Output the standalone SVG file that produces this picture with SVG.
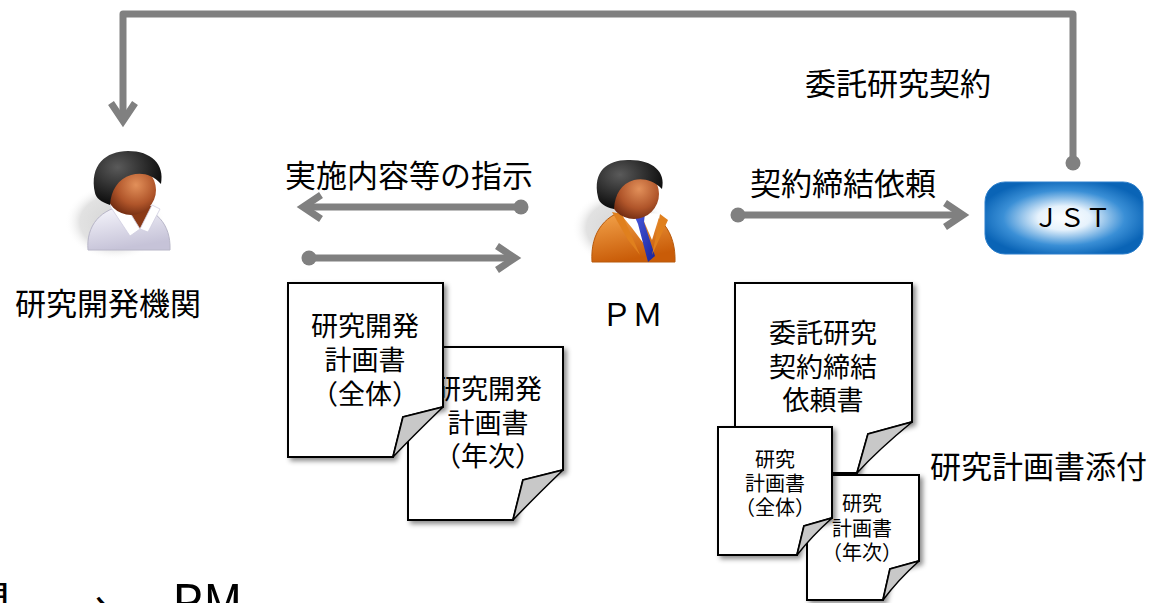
<svg xmlns="http://www.w3.org/2000/svg" width="1155" height="603" viewBox="0 0 1155 603">
  <style>
    .t { font-family: "Noto Sans CJK JP", "Noto Sans", sans-serif; fill: #000; }
    .lbl { font-size: 31px; }
    .doc-t { font-size: 27px; text-anchor: middle; }
    .doc-s { font-size: 20px; text-anchor: middle; }
    .conn { fill: none; stroke: #808080; stroke-width: 7; stroke-linejoin: round; }
    .page { fill: #fff; stroke: #000; stroke-width: 2; filter: url(#shadow); }
    .flap { fill: #c8c8c8; stroke: #000; stroke-width: 1.5; stroke-linejoin: round; }
  </style>
  <defs>
    <marker id="dot" markerUnits="userSpaceOnUse" viewBox="-8 -8 16 16" markerWidth="16" markerHeight="16" refX="0" refY="0" orient="auto">
      <circle r="7.5" fill="#808080"/>
    </marker>
    <marker id="chev" markerUnits="userSpaceOnUse" viewBox="-30 -20 40 40" markerWidth="40" markerHeight="40" refX="0" refY="0" orient="auto" overflow="visible">
      <path d="M-18,-12 L0,0 L-18,12" fill="none" stroke="#808080" stroke-width="7" stroke-linejoin="miter"/>
    </marker>
    <filter id="shadow" x="-10%" y="-10%" width="130%" height="130%">
      <feDropShadow dx="3" dy="3" stdDeviation="2.5" flood-color="#000" flood-opacity="0.45"/>
    </filter>
    <radialGradient id="jstFill" cx="0.5" cy="0.5" r="0.55">
      <stop offset="0" stop-color="#ffffff"/>
      <stop offset="0.3" stop-color="#e6f2fc"/>
      <stop offset="0.7" stop-color="#3a8fd6"/>
      <stop offset="1" stop-color="#0a64b6"/>
    </radialGradient>
    <radialGradient id="halo" cx="0.5" cy="0.5" r="0.5">
      <stop offset="0" stop-color="#d4d4d4"/>
      <stop offset="0.7" stop-color="#e2e2e2"/>
      <stop offset="1" stop-color="#ffffff" stop-opacity="0"/>
    </radialGradient>
    <radialGradient id="skin" cx="0.6" cy="0.4" r="0.65">
      <stop offset="0" stop-color="#e2905a"/>
      <stop offset="0.6" stop-color="#b0552a"/>
      <stop offset="1" stop-color="#6e2a10"/>
    </radialGradient>
    <radialGradient id="hair" cx="0.35" cy="0.3" r="0.7">
      <stop offset="0" stop-color="#5a5a5a"/>
      <stop offset="1" stop-color="#0c0c0c"/>
    </radialGradient>
    <linearGradient id="shirt" x1="0" y1="0" x2="0.3" y2="1">
      <stop offset="0" stop-color="#fafaff"/>
      <stop offset="1" stop-color="#c6c3d8"/>
    </linearGradient>
    <linearGradient id="suit" x1="0" y1="0" x2="0.3" y2="1">
      <stop offset="0" stop-color="#f8ab52"/>
      <stop offset="1" stop-color="#c95c08"/>
    </linearGradient>
    <linearGradient id="tie" x1="0" y1="0" x2="1" y2="1">
      <stop offset="0" stop-color="#4a5ae0"/>
      <stop offset="1" stop-color="#1a2499"/>
    </linearGradient>
  </defs>

  <!-- connectors -->
  <g id="connectors">
    <path class="conn" d="M1073,163 V14 H123 V121" marker-start="url(#dot)" marker-end="url(#chev)"/>
    <line class="conn" x1="521" y1="207" x2="303" y2="207" marker-start="url(#dot)" marker-end="url(#chev)"/>
    <line class="conn" x1="309" y1="258" x2="515" y2="258" marker-start="url(#dot)" marker-end="url(#chev)"/>
    <line class="conn" x1="738" y1="215" x2="963" y2="215" marker-start="url(#dot)" marker-end="url(#chev)"/>
    <text class="t lbl" x="805" y="95">委託研究契約</text>
    <text class="t lbl" x="285" y="187">実施内容等の指示</text>
    <text class="t lbl" x="750" y="195">契約締結依頼</text>
  </g>

  <!-- research institute person -->
  <g id="research-institute">
    <ellipse cx="115" cy="222" rx="50" ry="38" fill="url(#halo)"/>
    <path d="M88,250 C86,226 100,208 128,205 C156,207 171,224 170,250 Z" fill="url(#shirt)" stroke="#b8b6c8" stroke-width="1"/>
    <path d="M112,206 L140,229 L152,206 Z" fill="#8a3a17"/>
    <path d="M110,206 L124,203 L140,229 L130,236 Z" fill="#ffffff" stroke="#cfcde0" stroke-width="0.8"/>
    <path d="M152,205 L160,209 L148,232 L140,229 Z" fill="#ffffff" stroke="#cfcde0" stroke-width="0.8"/>
    <circle cx="131" cy="190" r="25" fill="url(#skin)"/>
    <path d="M95,193 C89,165 106,151 128,151 C151,151 165,164 161,184 C152,174 141,172 131,175 C118,179 111,190 110,205 C101,202 96,198 95,193 Z" fill="url(#hair)"/>
    <text class="t lbl" x="15" y="315">研究開発機関</text>
  </g>

  <!-- PM person -->
  <g id="pm">
    <ellipse cx="620" cy="228" rx="48" ry="38" fill="url(#halo)"/>
    <path d="M592,262 C590,232 606,212 633,209 C660,211 676,232 675,262 Z" fill="url(#suit)" stroke="#b85a0c" stroke-width="1"/>
    <path d="M618,211 L640,213 L650,252 L632,228 Z" fill="#ffffff"/>
    <path d="M640,212 L660,214 L652,240 Z" fill="#ffffff"/>
    <path d="M633,213 L645,213 L644,222 L655,256 L648,262 L638,224 Z" fill="url(#tie)"/>
    <path d="M612,212 L622,214 L640,255 L628,240 Z" fill="#e0801e"/>
    <path d="M660,214 L668,220 L652,255 L656,236 Z" fill="#e0801e"/>
    <circle cx="634" cy="194" r="25" fill="url(#skin)"/>
    <path d="M598,197 C592,170 609,159 630,160 C653,160 666,172 662,189 C653,180 643,178 634,180 C621,184 615,194 614,209 C605,207 599,203 598,197 Z" fill="url(#hair)"/>
    <text class="t lbl" x="601" y="326">ＰＭ</text>
  </g>

  <!-- JST -->
  <g id="jst">
    <rect x="985" y="182" width="158" height="72" rx="20" fill="url(#jstFill)" stroke="#2c7fcc" stroke-width="1"/>
    <text class="t" x="1072" y="227" font-size="26" text-anchor="middle">ＪＳＴ</text>
  </g>

  <!-- annual research plan -->
  <g id="plan-annual">
    <path class="page" d="M408,347 H563 V470 L523,480 L513,520 H408 Z"/>
    <path class="flap" d="M563,470 L523,480 L513,520 Q532,500 563,470 Z"/>
    <text class="t doc-t" x="488" y="399">研究開発</text>
    <text class="t doc-t" x="488" y="433">計画書</text>
    <text class="t doc-t" x="488" y="466">（年次）</text>
  </g>

  <!-- overall research plan -->
  <g id="plan-overall">
    <path class="page" d="M288,283 H443 V407 L403,417 L393,457 H288 Z"/>
    <path class="flap" d="M443,407 L403,417 L393,457 Q412,437 443,407 Z"/>
    <text class="t doc-t" x="365" y="336">研究開発</text>
    <text class="t doc-t" x="365" y="370">計画書</text>
    <text class="t doc-t" x="365" y="404">（全体）</text>
  </g>

  <!-- contract request form -->
  <g id="contract-request">
    <path class="page" d="M735,283 H912 V422 L868,434 L857,473 H735 Z"/>
    <path class="flap" d="M912,422 L868,434 L857,473 Q878,450 912,422 Z"/>
    <text class="t doc-t" x="823" y="343">委託研究</text>
    <text class="t doc-t" x="823" y="377">契約締結</text>
    <text class="t doc-t" x="823" y="410">依頼書</text>
  </g>

  <!-- attached plan, annual -->
  <g id="attach-annual">
    <path class="page" d="M807,475 H919 V561 L890,569 L883,600 H807 Z"/>
    <path class="flap" d="M919,561 L890,569 L883,600 Q898,580 919,561 Z"/>
    <text class="t doc-s" x="862" y="511">研究</text>
    <text class="t doc-s" x="862" y="536">計画書</text>
    <text class="t doc-s" x="862" y="560">（年次）</text>
  </g>

  <!-- attached plan, overall -->
  <g id="attach-overall">
    <path class="page" d="M718,427 H832 V518 L804,526 L797,555 H718 Z"/>
    <path class="flap" d="M832,518 L804,526 L797,555 Q812,536 832,518 Z"/>
    <text class="t doc-s" x="775" y="467">研究</text>
    <text class="t doc-s" x="775" y="491">計画書</text>
    <text class="t doc-s" x="775" y="515">（全体）</text>
  </g>

  <text class="t lbl" x="930" y="478">研究計画書添付</text>

  <!-- caption running off the lower edge -->
  <g id="caption">
    <text class="t" x="10" y="619" font-size="44" text-anchor="end">研究開発機関</text>
    <text class="t" x="68" y="624" font-size="44">→</text>
    <text class="t" x="172" y="620" font-size="49">PM</text>
  </g>
</svg>
